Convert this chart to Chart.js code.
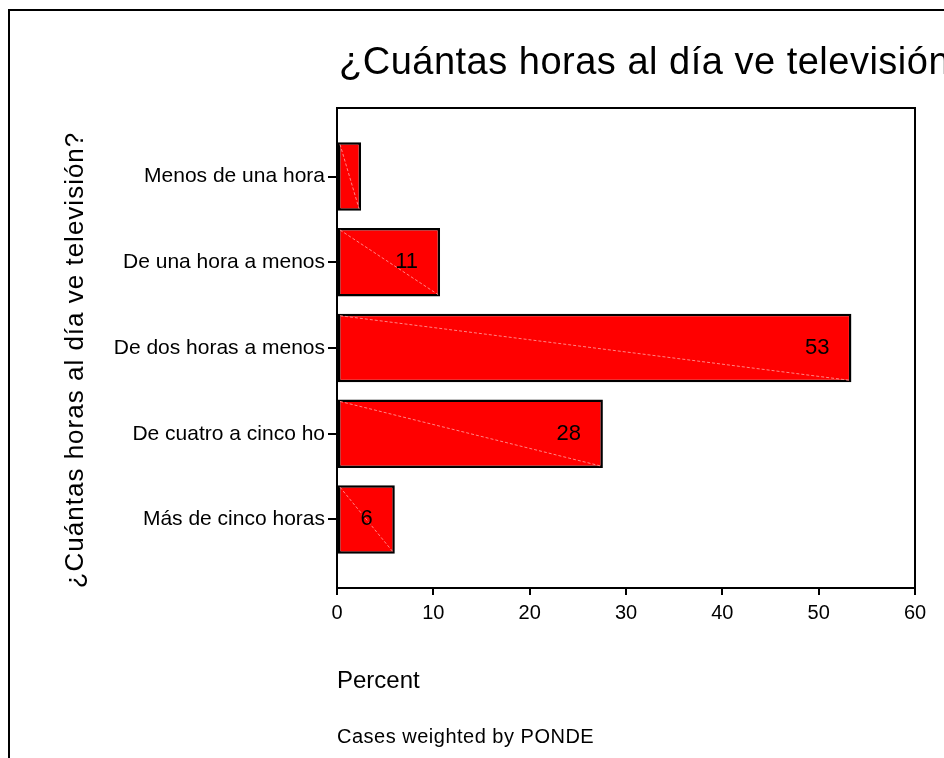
<!DOCTYPE html>
<html>
<head>
<meta charset="utf-8">
<script src="https://cdn.jsdelivr.net/npm/chart.js@4.4.1/dist/chart.umd.min.js"></script>
<style>
  html, body { margin: 0; padding: 0; background: #ffffff; }
</style>
</head>
<body>
<canvas id="chart" width="944" height="758"></canvas>
<script>
// chart data
const chartTitle = '¿Cuántas horas al día ve televisión?';
const yTitle = '¿Cuántas horas al día ve televisión?';
const categories = ['Menos de una hora', 'De una hora a menos', 'De dos horas a menos', 'De cuatro a cinco ho', 'Más de cinco horas'];
const percents = [2.5, 10.7, 53.4, 27.6, 6.0];
const xTicks = [0, 10, 20, 30, 40, 50, 60];
const xTitle = 'Percent';
const footnote = 'Cases weighted by PONDE';

const FONT = '"Liberation Sans", Arial, sans-serif';

// frame, titles, value labels and the faint diagonals inside the bars
const decorations = {
    id: 'decorations',
    beforeDraw(chart) {
        const ctx = chart.ctx;
        ctx.save();
        ctx.fillStyle = '#ffffff';
        ctx.fillRect(0, 0, chart.width, chart.height);
        ctx.restore();
    },
    afterDatasetsDraw(chart) {
        const ctx = chart.ctx;
        const meta = chart.getDatasetMeta(0);
        ctx.save();
        meta.data.forEach((bar, i) => {
            const top = bar.y - bar.height / 2;
            const bottom = bar.y + bar.height / 2;
            ctx.strokeStyle = '#ff8585';
            ctx.lineWidth = 1;
            ctx.setLineDash([3, 2]);
            ctx.beginPath();
            ctx.moveTo(bar.base + 2, top + 2);
            ctx.lineTo(bar.x - 2, bottom - 2);
            ctx.stroke();
            ctx.setLineDash([]);

            // small bars get no label, like the original
            if (bar.x - bar.base > 40) {
                ctx.fillStyle = '#000000';
                ctx.font = '22px ' + FONT;
                ctx.textAlign = 'right';
                ctx.textBaseline = 'middle';
                ctx.fillText(String(Math.round(percents[i])), bar.x - 22, bar.y);
            }
        });
        ctx.restore();
    },
    afterDraw(chart) {
        const { ctx, chartArea: a } = chart;
        ctx.save();
        ctx.strokeStyle = '#000000';
        ctx.lineWidth = 2;
        ctx.strokeRect(a.left, a.top, a.right - a.left, a.bottom - a.top);
        // outer border, runs off the right and bottom edges
        ctx.strokeRect(9, 10, 2000, 2000);

        ctx.fillStyle = '#000000';
        ctx.textAlign = 'left';
        ctx.textBaseline = 'alphabetic';
        ctx.letterSpacing = '0.5px';
        ctx.font = '38px ' + FONT;
        ctx.fillText(chartTitle, a.left + 2, 74);

        ctx.font = '20px ' + FONT;
        ctx.fillText(footnote, a.left, 743);

        ctx.letterSpacing = '1px';
        ctx.font = '26px ' + FONT;
        ctx.translate(76, (a.top + a.bottom) / 2 + 12);
        ctx.rotate(-Math.PI / 2);
        ctx.textAlign = 'center';
        ctx.textBaseline = 'middle';
        ctx.fillText(yTitle, 0, 0);
        ctx.restore();
    }
};

const ctx = document.getElementById('chart').getContext('2d');
const tvChart = new Chart(ctx, {
    type: 'bar',
    data: {
        datasets: [{
            data: percents.map((v, i) => ({ x: v, y: i })),
            backgroundColor: '#ff0000',
            borderColor: '#000000',
            borderWidth: 2.5,
            borderSkipped: false,
            categoryPercentage: 1,
            barPercentage: 0.8,
        }]
    },
    options: {
        indexAxis: 'y',
        responsive: false,
        animation: false,
        layout: {
            padding: { left: 12, top: 108, right: 29, bottom: 0 }
        },
        plugins: {
            legend: { display: false },
            tooltip: { enabled: false },
            title: { display: false }
        },
        scales: {
            x: {
                type: 'linear',
                min: xTicks[0],
                max: xTicks[xTicks.length - 1],
                offset: false,
                afterFit: s => { s.height = 170; },
                afterBuildTicks: s => { s.ticks = xTicks.map(v => ({ value: v })); },
                border: { display: false },
                grid: {
                    offset: false,
                    drawOnChartArea: false,
                    drawTicks: true,
                    tickLength: 7,
                    color: '#000000',
                    lineWidth: 2
                },
                ticks: {
                    padding: 6,
                    color: '#000000',
                    font: { family: FONT, size: 20 }
                },
                title: {
                    display: true,
                    text: xTitle,
                    align: 'start',
                    color: '#000000',
                    font: { family: FONT, size: 24 },
                    padding: { top: 0, bottom: 62 }
                }
            },
            y: {
                type: 'linear',
                reverse: true,
                offset: false,
                min: -0.8,
                max: categories.length - 0.2,
                afterFit: s => { s.width = 325; },
                afterBuildTicks: s => { s.ticks = categories.map((c, i) => ({ value: i })); },
                border: { display: false },
                grid: {
                    offset: false,
                    drawOnChartArea: false,
                    drawTicks: true,
                    tickLength: 9,
                    color: '#000000',
                    lineWidth: 2
                },
                ticks: {
                    padding: 3,
                    autoSkip: false,
                    color: '#000000',
                    font: { family: FONT, size: 21 },
                    callback: v => categories[v]
                }
            }
        }
    },
    plugins: [decorations]
});
</script>
</body>
</html>
